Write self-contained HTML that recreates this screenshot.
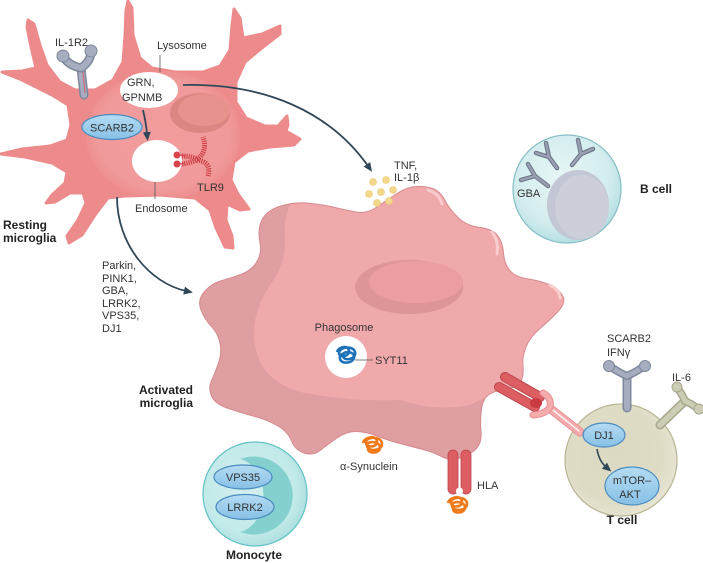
<!DOCTYPE html>
<html><head><meta charset="utf-8"><style>
html,body{margin:0;padding:0;background:#fff;}
svg{display:block;}
text{font-family:"Liberation Sans",sans-serif;fill:#333;font-size:11px;}
.b{font-weight:bold;font-size:12px;fill:#222;}
</style></head><body>
<svg width="703" height="563" viewBox="0 0 703 563" xmlns="http://www.w3.org/2000/svg">
<defs>
<marker id="ah" markerUnits="userSpaceOnUse" markerWidth="10" markerHeight="10" refX="2" refY="5" orient="auto">
<path d="M0,1 L9,5 L0,9 Z" fill="#2f4757"/>
</marker>
<clipPath id="rc"><polygon points="28,20 34,24 40,45 47,65 60,82 75,90 95,90 113,80 123,62 125,35 126,10 128,1 132,8 133,35 140,58 152,68 175,72 203,72 220,66 230,50 232,25 234,9 240,18 243,38 262,34 280,26 280,34 262,48 245,62 236,82 236,102 246,118 265,126 278,126 287,116 288,125 286,131 300,139 294,145 270,147 248,151 234,162 231,180 238,194 249,209 240,210 227,204 226,220 232,236 233,248 225,247 216,228 210,210 195,198 160,195 125,196 108,198 95,215 82,235 69,243 67,236 78,220 86,203 83,193 70,193 55,202 46,203 52,195 65,183 67,172 52,163 25,157 1,154 22,149 50,146 67,140 71,125 68,105 52,95 22,80 2,72 22,71 36,68 31,47 27,27"/></clipPath>
<clipPath id="ac"><path id="acp" d="M 201,310 Q 197,300 204.5,291.5 Q 212,283 222,280.5 Q 232,278 242,274 Q 252,270 257,261.5 Q 262,253 260,243 Q 258,233 260,225 Q 262,217 268.5,212 Q 275,207 286.5,204.5 Q 298,202 311.5,203.5 Q 325,205 335,207.5 Q 345,210 356,212 Q 367,214 377,207 Q 387,200 397,193.5 Q 407,187 416,186.5 Q 425,186 432.5,188.5 Q 440,191 445,200.5 Q 450,210 458.5,218 Q 467,226 480,227.5 Q 493,229 498,236 Q 503,243 503.5,253 Q 504,263 509.5,270 Q 515,277 528.5,279 Q 542,281 551,285.5 Q 560,290 563,296.5 Q 566,303 558,311.5 Q 550,320 540,328.5 Q 530,337 526,347 Q 522,357 523,366 Q 524,375 521,381 Q 518,387 507.5,388.5 Q 497,390 490,394 Q 483,398 481.5,409 Q 480,420 481,431.5 Q 482,443 476,449 Q 470,455 460,458 Q 450,461 441.5,456.5 Q 433,452 423,449.5 Q 413,447 400,443.5 Q 387,440 377,436 Q 367,432 357,431.5 Q 347,431 337,438 Q 327,445 320,450.5 Q 313,456 304,453 Q 295,450 291.5,441 Q 288,432 278,426 Q 268,420 255,416.5 Q 242,413 228.5,408.5 Q 215,404 211.5,396 Q 208,388 211.5,380.5 Q 215,373 218.5,363 Q 222,353 220,343 Q 218,333 211.5,326.5 Q 205,320 201,310 Z"/></clipPath>
<radialGradient id="bcell" cx="0.45" cy="0.4" r="0.6"><stop offset="0" stop-color="#e8f6f6"/><stop offset="0.75" stop-color="#d2ecee"/><stop offset="1" stop-color="#b5dfe3"/></radialGradient>
<radialGradient id="tcell" cx="0.45" cy="0.45" r="0.6"><stop offset="0" stop-color="#dcd9c1"/><stop offset="0.7" stop-color="#dedcc5"/><stop offset="1" stop-color="#e9e7d5"/></radialGradient>
<radialGradient id="mono" cx="0.45" cy="0.45" r="0.6"><stop offset="0" stop-color="#d4f0ef"/><stop offset="0.75" stop-color="#c2e9e9"/><stop offset="1" stop-color="#a6dcdc"/></radialGradient>
<linearGradient id="blue" x1="0" y1="0" x2="0" y2="1"><stop offset="0" stop-color="#b5dcf3"/><stop offset="1" stop-color="#86c0e6"/></linearGradient>
<radialGradient id="rlight" cx="0.5" cy="0.5" r="0.5"><stop offset="0" stop-color="#f29c9d"/><stop offset="0.85" stop-color="#f19a9b"/><stop offset="1" stop-color="#ee8f90"/></radialGradient>
</defs>

<!-- Resting microglia -->
<polygon points="28,20 34,24 40,45 47,65 60,82 75,90 95,90 113,80 123,62 125,35 126,10 128,1 132,8 133,35 140,58 152,68 175,72 203,72 220,66 230,50 232,25 234,9 240,18 243,38 262,34 280,26 280,34 262,48 245,62 236,82 236,102 246,118 265,126 278,126 287,116 288,125 286,131 300,139 294,145 270,147 248,151 234,162 231,180 238,194 249,209 240,210 227,204 226,220 232,236 233,248 225,247 216,228 210,210 195,198 160,195 125,196 108,198 95,215 82,235 69,243 67,236 78,220 86,203 83,193 70,193 55,202 46,203 52,195 65,183 67,172 52,163 25,157 1,154 22,149 50,146 67,140 71,125 68,105 52,95 22,80 2,72 22,71 36,68 31,47 27,27" fill="#ed8b8c" stroke="#ed8b8c" stroke-width="3" stroke-linejoin="round"/>
<g clip-path="url(#rc)">
<ellipse cx="163" cy="135" rx="77" ry="64" fill="url(#rlight)"/>
</g>
<!-- resting nucleus -->
<ellipse cx="200" cy="113" rx="30" ry="20" fill="#dc8684"/>
<ellipse cx="204" cy="110" rx="26" ry="16" fill="#e8928d"/>
<!-- lysosome & endosome -->
<ellipse cx="149" cy="90" rx="29" ry="18" fill="#fff"/>
<ellipse cx="157" cy="161" rx="25" ry="21" fill="#fff"/>
<!-- IL-1R2 receptor -->
<g stroke-linecap="round" fill="none">
<line x1="84" y1="95" x2="81" y2="68" stroke="#7f889c" stroke-width="9"/>
<line x1="84" y1="95" x2="81" y2="68" stroke="#a5adbf" stroke-width="6"/>
<path d="M81,68 Q70,66 64,58" stroke="#7f889c" stroke-width="9"/>
<path d="M81,68 Q90,62 91,53" stroke="#7f889c" stroke-width="9"/>
<path d="M81,68 Q70,66 64,58" stroke="#a5adbf" stroke-width="6"/>
<path d="M81,68 Q90,62 91,53" stroke="#a5adbf" stroke-width="6"/>
</g>
<circle cx="63" cy="56" r="6" fill="#a5adbf" stroke="#7f889c"/>
<circle cx="91" cy="51" r="6" fill="#a5adbf" stroke="#7f889c"/>
<line x1="83" y1="72" x2="85" y2="93" stroke="#d45c6a" stroke-width="1"/>
<!-- SCARB2 -->
<ellipse cx="112" cy="127" rx="30" ry="12.5" fill="url(#blue)" stroke="#4b8cc0" stroke-width="1.2"/>
<text x="112" y="131.5" text-anchor="middle">SCARB2</text>
<!-- TLR9 -->
<g fill="none" stroke="#cf3f48" stroke-width="5" stroke-dasharray="1.2 1" stroke-linecap="butt">
<path d="M182,156 Q190,156 197,159"/>
<path d="M182,164 Q190,163 197,160"/>
<path d="M197,159 Q208,152 203,137"/>
<path d="M197,160 Q212,162 208,176"/>
</g>
<circle cx="177" cy="155" r="3.5" fill="#d8434c"/>
<circle cx="177" cy="164" r="3.5" fill="#d8434c"/>
<line x1="180" y1="155" x2="185" y2="156" stroke="#d8434c" stroke-width="1.2"/>
<line x1="180" y1="164" x2="185" y2="163" stroke="#d8434c" stroke-width="1.2"/>

<!-- leader lines resting -->
<line x1="160" y1="55" x2="160" y2="72" stroke="#555" stroke-width="0.8"/>
<line x1="155" y1="182" x2="155" y2="199" stroke="#555" stroke-width="0.8"/>

<!-- Activated microglia -->
<use href="#acp" fill="#df9ea1"/>
<g clip-path="url(#ac)">
<path d="M295,195 Q283,215 285,235 Q287,262 270,285 Q250,315 255,345 Q260,380 300,392 Q350,402 400,400 Q435,412 470,405 Q490,395 500,390 L600,390 L600,150 L295,150 Z" fill="#f0a9ab"/>
</g>
<path d="M 201,310 Q 197,300 204.5,291.5 Q 212,283 222,280.5 Q 232,278 242,274 Q 252,270 257,261.5 Q 262,253 260,243 Q 258,233 260,225 Q 262,217 268.5,212 Q 275,207 286.5,204.5 Q 298,202 311.5,203.5 Q 325,205 335,207.5 Q 345,210 356,212 Q 367,214 377,207 Q 387,200 397,193.5 Q 407,187 416,186.5 Q 425,186 432.5,188.5 Q 440,191 445,200.5 Q 450,210 458.5,218 Q 467,226 480,227.5 Q 493,229 498,236 Q 503,243 503.5,253 Q 504,263 509.5,270 Q 515,277 528.5,279 Q 542,281 551,285.5 Q 560,290 563,296.5 Q 566,303 558,311.5 Q 550,320 540,328.5 Q 530,337 526,347 Q 522,357 523,366 Q 524,375 521,381 Q 518,387 507.5,388.5 Q 497,390 490,394 Q 483,398 481.5,409 Q 480,420 481,431.5 Q 482,443 476,449 Q 470,455 460,458 Q 450,461 441.5,456.5 Q 433,452 423,449.5 Q 413,447 400,443.5 Q 387,440 377,436 Q 367,432 357,431.5 Q 347,431 337,438 Q 327,445 320,450.5 Q 313,456 304,453 Q 295,450 291.5,441 Q 288,432 278,426 Q 268,420 255,416.5 Q 242,413 228.5,408.5 Q 215,404 211.5,396 Q 208,388 211.5,380.5 Q 215,373 218.5,363 Q 222,353 220,343 Q 218,333 211.5,326.5 Q 205,320 201,310 Z" fill="none" stroke="#d68a8e" stroke-width="1"/>
<!-- highlights -->
<g fill="none" stroke="#fbd3d4" stroke-width="3" stroke-linecap="round" opacity="0.85">
<path d="M428,190 Q440,194 442,204"/>
<path d="M492,232 Q499,240 497,254"/>
<path d="M550,285 Q560,290 560,298"/>
</g>
<!-- activated nucleus -->
<ellipse cx="409" cy="287" rx="54" ry="27" fill="#de9598"/>
<ellipse cx="416" cy="282" rx="47" ry="21" fill="#eb9ea1"/>
<!-- phagosome -->
<circle cx="346" cy="357" r="21" fill="#fff"/>
<path d="M337,352 c2,-6 12,-7 12,-1 c0,6 -10,7 -10,2 c0,-6 14,-8 16,-1 c2,7 -11,10 -12,4 c-1,-6 13,-5 11,2 c-2,6 -13,6 -14,1 c-1,-4 3,-6 5,-5" fill="none" stroke="#1d72b8" stroke-width="2.6"/>
<line x1="355" y1="360" x2="373" y2="360" stroke="#555" stroke-width="0.8"/>
<text x="344" y="331" text-anchor="middle">Phagosome</text>
<text x="375" y="364">SYT11</text>

<!-- TNF dots -->
<g fill="#f3d88c" stroke="#e9c872" stroke-width="0.6">
<circle cx="373" cy="182" r="3.5"/><circle cx="386" cy="180" r="3.5"/>
<circle cx="381" cy="192" r="3.5"/><circle cx="369" cy="194" r="3.5"/>
<circle cx="393" cy="190" r="3.5"/><circle cx="377" cy="203" r="3.5"/>
<circle cx="389" cy="201" r="3.5"/>
</g>
<text x="394" y="169">TNF,</text>
<text x="394" y="181">IL-1β</text>

<!-- arrows -->
<g fill="none" stroke="#2f4757" stroke-width="1.8">
<path d="M183,85 C265,83 330,112 368,166" marker-end="url(#ah)"/>
<path d="M143,110 Q146,122 147,134" marker-end="url(#ah)"/>
<path d="M117,197 C117,245 150,283 186,291" marker-end="url(#ah)"/>
</g>

<!-- B cell -->
<circle cx="567" cy="189" r="54" fill="url(#bcell)" stroke="#86bec5" stroke-width="1.2"/>
<ellipse cx="578" cy="205" rx="31" ry="35" fill="#c3c6d4"/>
<ellipse cx="582" cy="207" rx="27" ry="32" fill="#ccced9"/>
<g stroke="#6f7789" stroke-width="4.5" stroke-linecap="round" fill="none">
<path d="M548,186 L535,176 M535,176 L528,164 M535,176 L521,180"/>
<path d="M557,168 L549,157 M549,157 L546,143 M549,157 L536,153"/>
<path d="M572,165 L581,154 M581,154 L578,140 M581,154 L593,149"/>
</g>
<g stroke="#9aa2b4" stroke-width="2.2" stroke-linecap="round" fill="none">
<path d="M548,186 L535,176 M535,176 L528,164 M535,176 L521,180"/>
<path d="M557,168 L549,157 M549,157 L546,143 M549,157 L536,153"/>
<path d="M572,165 L581,154 M581,154 L578,140 M581,154 L593,149"/>
</g>
<text x="517" y="197">GBA</text>
<text class="b" x="640" y="193">B cell</text>

<!-- labels resting -->
<text x="55" y="46">IL-1R2</text>
<text x="157" y="49">Lysosome</text>
<text x="127" y="86">GRN,</text>
<text x="122" y="101">GPNMB</text>
<text x="135" y="212">Endosome</text>
<text x="197" y="191">TLR9</text>
<text class="b" x="3" y="229">Resting</text>
<text class="b" x="3" y="242">microglia</text>

<text x="102" y="269">Parkin,</text>
<text x="102" y="282">PINK1,</text>
<text x="102" y="294">GBA,</text>
<text x="102" y="307">LRRK2,</text>
<text x="102" y="319">VPS35,</text>
<text x="102" y="332">DJ1</text>

<text class="b" x="193" y="394" text-anchor="end">Activated</text>
<text class="b" x="193" y="407" text-anchor="end">microglia</text>

<!-- alpha synuclein -->
<path d="M363,443 c2,-7 14,-8 14,-1 c0,6 -12,6 -11,0 c1,-6 16,-6 16,2 c0,7 -14,8 -15,2 c-1,-6 14,-5 13,2 c-1,6 -12,6 -12,1" fill="none" stroke="#f07a1a" stroke-width="2.6"/>
<text x="340" y="470">α-Synuclein</text>

<!-- HLA vertical -->
<rect x="448" y="450" width="10" height="44" rx="5" fill="#dc5e63" stroke="#bb474c" stroke-width="0.8"/>
<rect x="461" y="450" width="10" height="44" rx="5" fill="#dc5e63" stroke="#bb474c" stroke-width="0.8"/>
<circle cx="459.5" cy="491" r="3.5" fill="#fff"/>
<path d="M448,503 c2,-7 14,-8 14,-1 c0,6 -12,6 -11,0 c1,-6 16,-6 16,2 c0,7 -14,8 -15,2 c-1,-6 14,-5 13,2 c-1,6 -12,6 -12,1" fill="none" stroke="#f07a1a" stroke-width="2.6"/>
<text x="477" y="489">HLA</text>

<!-- T cell -->
<circle cx="621" cy="460" r="56" fill="url(#tcell)" stroke="#b9b594" stroke-width="1.2"/>
<!-- TCR-MHC -->
<g stroke-linecap="round" fill="none">
<line x1="505" y1="377" x2="540" y2="397" stroke="#bb474c" stroke-width="10"/>
<line x1="505" y1="377" x2="540" y2="397" stroke="#dc5e63" stroke-width="8"/>
<line x1="499" y1="387" x2="535" y2="407" stroke="#bb474c" stroke-width="10"/>
<line x1="499" y1="387" x2="535" y2="407" stroke="#dc5e63" stroke-width="8"/>
</g>
<ellipse cx="536" cy="403" rx="6" ry="5" fill="#c93a42"/>
<g stroke-linecap="round" fill="none">
<line x1="552" y1="410" x2="580" y2="432" stroke="#e88f92" stroke-width="9"/>
<line x1="552" y1="410" x2="580" y2="432" stroke="#f4acad" stroke-width="7"/>
<line x1="553" y1="410" x2="579" y2="431" stroke="#fff" stroke-width="1.2"/>
<path d="M543,393 Q552,398 550,407 Q546,414 533,415" stroke="#e88f92" stroke-width="7"/>
<path d="M543,393 Q552,398 550,407 Q546,414 533,415" stroke="#f4acad" stroke-width="5"/>
</g>
<!-- SCARB2 receptor T cell -->
<g stroke-linecap="round" fill="none">
<line x1="627" y1="408" x2="627" y2="376" stroke="#7f889c" stroke-width="9"/>
<line x1="627" y1="408" x2="627" y2="376" stroke="#a5adbf" stroke-width="6"/>
<path d="M627,376 Q618,372 611,367" stroke="#7f889c" stroke-width="8"/>
<path d="M627,376 Q636,372 643,367" stroke="#7f889c" stroke-width="8"/>
<path d="M627,376 Q618,372 611,367" stroke="#a5adbf" stroke-width="5"/>
<path d="M627,376 Q636,372 643,367" stroke="#a5adbf" stroke-width="5"/>
</g>
<circle cx="609" cy="366" r="5.5" fill="#a5adbf" stroke="#7f889c"/>
<circle cx="645" cy="366" r="5.5" fill="#a5adbf" stroke="#7f889c"/>
<!-- IL-6 receptor -->
<g stroke-linecap="round" fill="none">
<line x1="660" y1="425" x2="685" y2="401" stroke="#a9a88e" stroke-width="9"/>
<line x1="660" y1="425" x2="685" y2="401" stroke="#cdccb4" stroke-width="6"/>
<path d="M685,401 Q682,394 678,389" stroke="#a9a88e" stroke-width="8"/>
<path d="M685,401 Q692,404 697,408" stroke="#a9a88e" stroke-width="8"/>
<path d="M685,401 Q682,394 678,389" stroke="#cdccb4" stroke-width="5"/>
<path d="M685,401 Q692,404 697,408" stroke="#cdccb4" stroke-width="5"/>
</g>
<circle cx="677" cy="387" r="5" fill="#cdccb4" stroke="#a9a88e"/>
<circle cx="699" cy="409" r="5" fill="#cdccb4" stroke="#a9a88e"/>
<text x="607" y="342">SCARB2</text>
<text x="607" y="356">IFNγ</text>
<text x="672" y="381">IL-6</text>
<ellipse cx="604" cy="435" rx="21" ry="12" fill="url(#blue)" stroke="#4b8cc0" stroke-width="1.2"/>
<text x="604" y="439" text-anchor="middle">DJ1</text>
<ellipse cx="632" cy="486" rx="27" ry="19" fill="url(#blue)" stroke="#4b8cc0" stroke-width="1.2"/>
<text x="632" y="484" text-anchor="middle">mTOR–</text>
<text x="630" y="498" text-anchor="middle">AKT</text>
<path d="M597,449 Q599,461 606,467" fill="none" stroke="#2f4757" stroke-width="1.6" marker-end="url(#ah)"/>
<text class="b" x="622" y="524" text-anchor="middle">T cell</text>

<!-- Monocyte -->
<circle cx="255" cy="494" r="52" fill="url(#mono)" stroke="#62c1c4" stroke-width="1.2"/>
<path d="M240,459 A39,39 0 1 1 240,532 A28,37 0 0 0 240,459 Z" fill="#84d0cf"/>
<ellipse cx="243" cy="477" rx="29" ry="12" fill="url(#blue)" stroke="#4b8cc0" stroke-width="1.2"/>
<text x="243" y="481" text-anchor="middle">VPS35</text>
<ellipse cx="245" cy="507" rx="29" ry="12.5" fill="url(#blue)" stroke="#4b8cc0" stroke-width="1.2"/>
<text x="245" y="511" text-anchor="middle">LRRK2</text>
<text class="b" x="254" y="559" text-anchor="middle">Monocyte</text>
</svg>
</body></html>
